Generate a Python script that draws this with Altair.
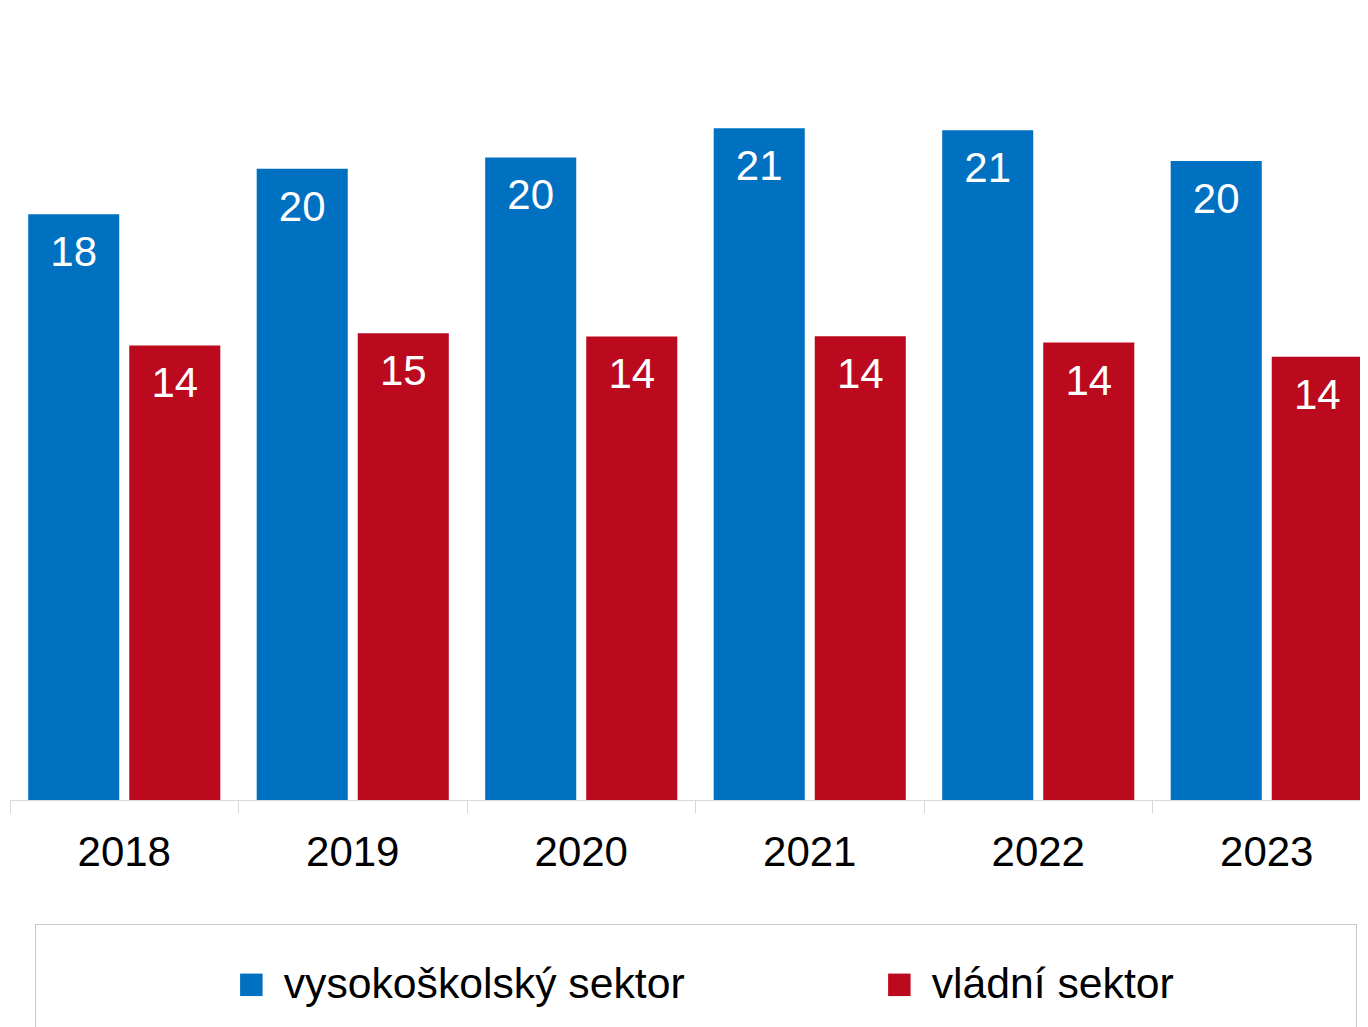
import altair as alt
import pandas as pd

years = ["2018", "2019", "2020", "2021", "2022", "2023"]
series = ["vysokoškolský sektor", "vládní sektor"]
univ = [18.26, 19.68, 20.03, 20.94, 20.88, 19.92]
gov = [14.17, 14.55, 14.45, 14.46, 14.26, 13.82]
colors = ["#0070c0", "#bb0a1e"]

rows = []
for i, y in enumerate(years):
    rows.append({"rok": y, "sektor": series[0], "hodnota": univ[i]})
    rows.append({"rok": y, "sektor": series[1], "hodnota": gov[i]})
df = pd.DataFrame(rows)

FONT = "Liberation Sans"

x = alt.X(
    "rok:N",
    sort=years,
    scale=alt.Scale(range=[0, 1371], paddingInner=0, paddingOuter=0),
    axis=alt.Axis(
        title=None, labelAngle=0, bandPosition=0,
        labelFontSize=42, labelFont=FONT, labelColor="#000000",
        labelBaseline="alphabetic", labelPadding=52,
        tickSize=13, tickColor="#d9d9d9", domainColor="#d9d9d9",
        grid=False,
    ),
)
xo = alt.XOffset("sektor:N", sort=series,
                 scale=alt.Scale(paddingInner=0.099, paddingOuter=0.18))
y = alt.Y("hodnota:Q", scale=alt.Scale(domain=[0, 24.69], nice=False), axis=None)

bars = alt.Chart(df).mark_bar().encode(
    x=x, xOffset=xo, y=y,
    color=alt.Color(
        "sektor:N", sort=series,
        scale=alt.Scale(domain=series, range=colors),
        legend=alt.Legend(
            title=" ", titleOrient="right", titleFontSize=1, titlePadding=143,
            orient="none", legendX=25, legendY=916,
            direction="horizontal", columns=2,
            strokeColor="#c8c8c8", fillColor="#ffffff", padding=39,
            symbolType="square", symbolSize=506, symbolStrokeWidth=0,
            symbolOffset=156, labelOffset=11, columnPadding=37,
            labelFontSize=42.7, labelFont=FONT, labelColor="#000000",
            labelLimit=1000,
        ),
    ),
)

labels = alt.Chart(df).mark_text(
    color="white", fontSize=42, font=FONT, baseline="alphabetic", dy=52
).encode(
    x=x, xOffset=xo, y=y,
    text=alt.Text("hodnota:Q", format=".0f"),
)

chart = alt.layer(bars, labels).properties(
    width=1350, height=792,
    autosize="none",
    padding={"left": 2, "top": 0, "right": 0, "bottom": 227},
).configure_view(stroke=None)

chart.save("out.html", embed_options={"renderer": "svg", "actions": False})
